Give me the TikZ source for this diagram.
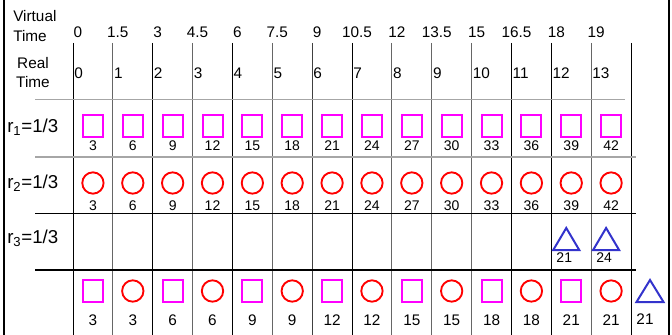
\documentclass[tikz,border=0pt]{standalone}
\usepackage{fontspec}
\setmainfont{Liberation Sans}
\usepackage{xcolor}
\usetikzlibrary{positioning}
\definecolor{triblue}{RGB}{51,51,204}
\definecolor{sqpink}{RGB}{255,0,255}
\definecolor{cired}{RGB}{255,0,0}

\begin{document}
\begin{tikzpicture}[x=0.75pt, y=-0.75pt,
  sqr/.style={draw=sqpink, line width=1.5pt, minimum width=15pt, minimum height=16pt, inner sep=0pt},
  rnd/.style={draw=cired, circle, line width=1.4pt, minimum size=16pt, inner sep=0pt},
  tri/.style={draw=triblue, line width=1.5pt},
  num/.style={inner sep=0pt, font=\fontsize{10.5}{12}\selectfont},
  big/.style={inner sep=0pt, font=\fontsize{11.5}{13}\selectfont}]
  \useasboundingbox (0,0) rectangle (672,335);
  \def\xa{73}
  \def\dx{39.86}
  % frame
  \draw[line width=2.2pt] (4,0) -- (4,335);
  \draw[line width=2.2pt] (669,0) -- (669,335);
  % grid
  \foreach \i/\c in {0/black,1/black!60,2/black,3/black!60,4/black,5/black!60,6/black!75,7/black,
                     8/black!60,9/black!60,10/black!60,11/black,12/black,13/black!60,14/black}
    \draw[\c, line width=0.75pt] ({\xa+\i*\dx},43) -- ({\xa+\i*\dx},335);
  \draw[gray!70, line width=0.75pt] (35,100) -- (625,100);
  \draw[gray!70, line width=1.2pt] (35,157) -- (636,157);
  \draw[black, line width=0.75pt] (35,213) -- (636,213);
  \draw[black, line width=1.2pt] (35,270) -- (636,270);
  % headers
  \node[big, anchor=west] (vtA) at (13,16) {Virtual};
  \node[big, anchor=west] (vtB) at (13,36) {Time};
  \node[big] (rtA) at (33,63) {Real};
  \node[big] (rtB) at (33,82) {Time};
  \foreach \v [count=\i from 0] in {0,1.5,3,4.5,6,7.5,9,10.5,12,13.5,15,16.5,18,19}
    \node[big] (vt\i) at ({\xa+\i*\dx+5},32) {\v};
  \foreach \i in {0,...,13}
    \node[big, anchor=west] (rt\i) at ({\xa+\i*\dx+1},73) {\i};
  % rate labels
  \foreach \k/\y in {1/127,2/183,3/238}
    \node[inner sep=0pt, anchor=west, font=\fontsize{14}{16}\selectfont] (r\k) at (7,\y) {r\textsubscript{\k}=1/3};
  % flows 1 and 2
  \foreach \i in {0,...,13}{
    \pgfmathtruncatemacro{\n}{3*(\i+1)}
    \node[sqr] (sq\i) at ({\xa+(\i+0.5)*\dx},126) {};
    \node[num] (sqn\i) at ({\xa+(\i+0.5)*\dx},146) {\n};
    \node[rnd] (ci\i) at ({\xa+(\i+0.5)*\dx},183) {};
    \node[num] (cin\i) at ({\xa+(\i+0.5)*\dx},206) {\n};
  }
  % flow 3
  \foreach \i/\n in {12/21,13/24}{
    \coordinate (tr\i) at ({\xa+(\i+0.5)*\dx-5},239);
    \draw[tri] (tr\i) ++(-13,11) -- ++(26,0) -- ++(-13,-22) -- cycle;
    \node[num] (trn\i) at ({\xa+(\i+0.5)*\dx-7},258) {\n};
  }
  % output order
  \foreach \k in {0,...,6}{
    \pgfmathtruncatemacro{\n}{3*(\k+1)}
    \pgfmathtruncatemacro{\a}{2*\k}
    \pgfmathtruncatemacro{\b}{2*\k+1}
    \node[sqr] (os\k) at ({\xa+(\a+0.5)*\dx},291) {};
    \node[big] (osn\k) at ({\xa+(\a+0.5)*\dx},320) {\n};
    \node[rnd] (oc\k) at ({\xa+(\b+0.5)*\dx},291) {};
    \node[big] (ocn\k) at ({\xa+(\b+0.5)*\dx},320) {\n};
  }
  \coordinate (ot) at (649.5,291);
  \draw[tri] (ot) ++(-13,11) -- ++(27,0) -- ++(-13.5,-22) -- cycle;
  \node[big] (otn) at (645,319) {21};
\end{tikzpicture}
\end{document}
